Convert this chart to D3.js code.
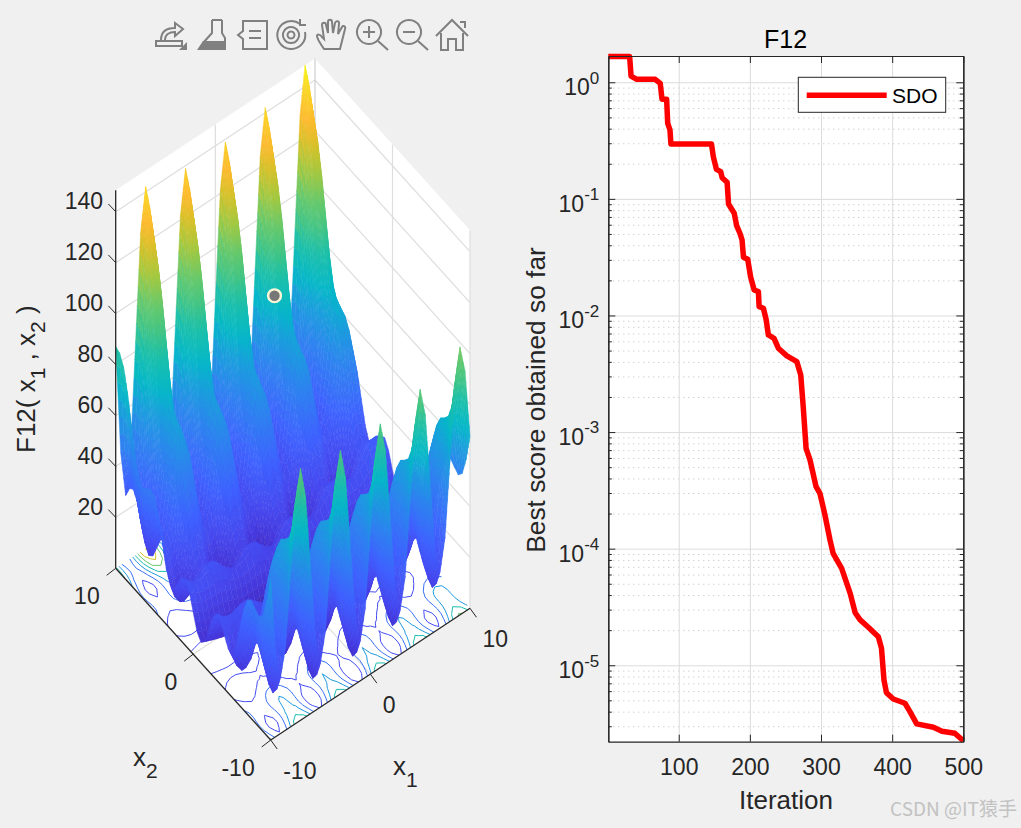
<!DOCTYPE html>
<html>
<head>
<meta charset="utf-8">
<script src="https://d3js.org/d3.v7.min.js"></script>
<style>
  body { margin: 0; background: #f0f0f0; }
  svg { display: block; }
  text { font-family: "Liberation Sans", Arial, sans-serif; fill: #262626; }
  .curve-axis path, .curve-axis line { stroke: #262626; }
  .grid-major line { stroke: #dcdcdc; }
  .grid-minor line { stroke: #bcbcbc; stroke-dasharray: 1 4; }
</style>
</head>
<body>
<div id="chart"></div>
<script>
'use strict';

// Convergence curve
var iterations = [1, 31, 33, 41, 67, 74, 76.5, 83, 84.5, 87.7, 89, 146, 148.6, 153, 159, 161, 168, 170, 178, 181.5, 186, 189, 191, 197, 201, 206, 212, 213, 219, 223, 226, 234, 240, 252, 266, 271.5, 275, 279, 284.5, 293, 298.5, 305.5, 312.6, 317, 329, 341, 348, 355, 366.5, 380.5, 385, 388.5, 392, 401.6, 418, 425, 434.5, 458, 470, 488, 500];
var bestScore = [1.66, 1.66, 1.13, 1.06, 1.06, 0.98, 0.715, 0.715, 0.445, 0.39, 0.296, 0.296, 0.23, 0.179, 0.171, 0.152, 0.139, 0.0904, 0.0753, 0.0586, 0.0507, 0.0445, 0.0316, 0.0303, 0.0215, 0.01655, 0.016, 0.0119, 0.01153, 0.00914, 0.0068, 0.00637, 0.00524, 0.0045, 0.00402, 0.00309, 0.00165, 0.000726, 0.000577, 0.00034, 0.000298, 0.000195, 0.000119, 0.0000912, 0.0000679, 0.0000414, 0.0000282, 0.0000245, 0.0000212, 0.0000176, 0.000014, 0.00000748, 0.00000582, 0.00000514, 0.00000472, 0.000004, 0.00000314, 0.00000294, 0.00000272, 0.00000261, 0.00000225];
var iterTicks = [100, 200, 300, 400, 500];
var scoreTicks = [1, 0.1, 0.01, 0.001, 0.0001, 0.00001];

// Surface heights, one row per x2, columns x1 = -10 .. 10 step 0.5 (estimates)
var zN1 = [8,7.1,6.3,5.5,4.8,4.2,3.5,3,2.5,2,1.6,1.2,.9,.6,.4,.2,.1,0,0,0,.1,.2,.4,.6,.9,1.2,1.6,2,2.5,3,3.5,4.2,4.8,5.5,6.3,7.1,8,8.9,9.8,10.8,11.9];
var zN05 = [10.4,9.5,8.6,7.9,7.3,6.7,6.1,5.5,4.9,4.4,3.9,3.6,3.3,3.1,3,2.8,2.5,2.4,2.3,2.4,2.5,2.8,3,3.1,3.3,3.6,3.9,4.4,4.9,5.5,6.1,6.7,7.3,7.9,8.6,9.5,10.4,11.4,12.4,13.4,14.3];
var z0 = [16.4,15.2,14.2,13.6,13.3,12.9,12.5,11.8,10.9,10.1,9.5,9.3,9.3,9.4,9.3,9,8.5,8.1,8,8.1,8.5,9,9.3,9.4,9.3,9.3,9.5,10.1,10.9,11.8,12.5,12.9,13.3,13.6,14.2,15.2,16.4,17.7,18.8,19.6,20.3];
var z05 = [22.7,21,19.9,19.5,19.5,19.7,19.4,18.5,17.2,15.9,15.2,15.2,15.6,16.1,16.2,15.7,14.8,14,13.6,14,14.8,15.7,16.2,16.1,15.6,15.2,15.2,15.9,17.2,18.5,19.4,19.7,19.5,19.5,19.9,21,22.7,24.4,25.7,26.3,26.6];
var z1 = [26,23.8,22.4,22.2,22.9,23.6,23.6,22.4,20.5,18.7,17.7,17.9,18.9,20.1,20.4,19.7,18.2,16.7,16.1,16.7,18.2,19.7,20.4,20.1,18.9,17.9,17.7,18.7,20.5,22.4,23.6,23.6,22.9,22.2,22.4,23.8,26,28.3,29.9,30.3,29.9];
var z15 = [25,22,20.3,20.4,21.9,23.4,23.7,22.2,19.5,16.9,15.6,16.1,18,19.9,20.6,19.5,17.2,14.9,14,14.9,17.2,19.5,20.6,19.9,18,16.1,15.6,16.9,19.5,22.2,23.7,23.4,21.9,20.4,20.3,22,25,28.1,30,30.1,29];
var z2 = [21.1,17.1,15,15.6,18,20.4,21.1,19.3,15.6,12,10.3,11.2,14,16.9,18,16.5,13.3,10.1,8.7,10.1,13.3,16.5,18,16.9,14,11.2,10.3,12,15.6,19.3,21.1,20.4,18,15.6,15,17.1,21.1,25.1,27.4,27.1,25];
var z25 = [17.5,12.4,9.8,10.8,14.3,17.9,19.1,16.7,12,7.3,5.1,6.5,10.4,14.4,15.9,14,9.6,5.3,3.5,5.3,9.6,14,15.9,14.4,10.4,6.5,5.1,7.3,12,16.7,19.1,17.9,14.3,10.8,9.8,12.4,17.5,22.6,25.4,24.6,21.4];
var z3 = [17.4,11,7.9,9.4,14.2,19.1,20.8,18,11.9,5.9,3.1,5.1,10.3,15.6,17.7,15.2,9.5,3.9,1.6,3.9,9.5,15.2,17.7,15.6,10.3,5.1,3.1,5.9,11.9,18,20.8,19.1,14.2,9.4,7.9,11,17.4,23.8,27.1,25.8,21.3];
var z35 = [22.2,14.3,10.6,12.7,19,25.4,27.7,24.2,16.7,9.2,5.9,8.4,15.1,21.9,24.6,21.5,14.3,7.2,4.3,7.2,14.3,21.5,24.6,21.9,15.1,8.4,5.9,9.2,16.7,24.2,27.7,25.4,19,12.7,10.6,14.3,22.2,30.1,34,32.1,26.1];
var z4 = [30.5,21,16.6,19.4,27.4,35.4,38.4,34.2,25,15.9,11.9,15.1,23.5,31.9,35.2,31.5,22.7,13.9,10.3,13.9,22.7,31.5,35.2,31.9,23.5,15.1,11.9,15.9,25,34.2,38.4,35.4,27.4,19.4,16.6,21,30.5,40.1,44.7,42.1,34.5];
var z45 = [39.2,27.8,22.7,26.3,36,45.9,49.6,44.7,33.7,22.7,18,21.9,32.1,42.3,46.5,42,31.3,20.8,16.4,20.8,31.3,42,46.5,42.3,32.1,21.9,18,22.7,33.7,44.7,49.6,45.9,36,26.3,22.7,27.8,39.2,50.6,55.9,52.6,43.1];
var z5 = [44.9,31.5,25.5,29.9,41.7,53.6,58.1,52.4,39.4,26.4,20.8,25.6,37.8,50,55,49.6,37,24.4,19.2,24.4,37,49.6,55,50,37.8,25.6,20.8,26.4,39.4,52.4,58.1,53.6,41.7,29.9,25.5,31.5,44.9,58.3,64.4,60.2,48.8];
var z55 = [46.3,30.7,23.8,29.2,43.1,57.1,62.6,55.9,40.8,25.6,19.1,24.8,39.2,53.6,59.4,53.2,38.4,23.7,17.6,23.7,38.4,53.2,59.4,53.6,39.2,24.8,19.1,25.6,40.8,55.9,62.6,57.1,43.1,29.2,23.8,30.7,46.3,61.8,68.9,63.8,50.2];
var z6 = [44.7,26.8,19,25.2,41.5,57.9,64.3,56.7,39.2,21.7,14.2,20.9,37.6,54.3,61.2,54,36.8,19.7,12.7,19.7,36.8,54,61.2,54.3,37.6,20.9,14.2,21.7,39.2,56.7,64.3,57.9,41.5,25.2,19,26.8,44.7,62.6,70.6,64.6,48.6];
var z65 = [43.4,23,14.1,21.4,40.3,59.1,66.6,57.9,37.9,17.9,9.4,17.1,36.3,55.6,63.4,55.2,35.5,15.9,7.8,15.9,35.5,55.2,63.4,55.6,36.3,17.1,9.4,17.9,37.9,57.9,66.6,59.1,40.3,21.4,14.1,23,43.4,63.8,72.9,65.8,47.3];
var z7 = [45.7,22.6,12.6,21,42.5,64.1,72.6,62.9,40.2,17.5,7.9,16.7,38.6,60.5,69.5,60.1,37.8,15.5,6.3,15.5,37.8,60.1,69.5,60.5,38.6,16.7,7.9,17.5,40.2,62.9,72.6,64.1,42.5,21,12.6,22.6,45.7,68.8,78.9,70.7,49.6];
var z75 = [52.8,26.9,15.7,25.3,49.7,74.1,83.9,72.9,47.3,21.8,11,21,45.7,70.6,80.7,70.2,45,19.8,9.4,19.8,45,70.2,80.7,70.6,45.7,21,11,21.8,47.3,72.9,83.9,74.1,49.7,25.3,15.7,26.9,52.8,78.8,90.1,80.8,56.7];
var z8 = [63.5,34.5,22.1,33,60.4,87.8,98.9,86.7,58,29.4,17.4,28.7,56.5,84.3,95.7,83.9,55.7,27.5,15.8,27.5,55.7,83.9,95.7,84.3,56.5,28.7,17.4,29.4,58,86.7,98.9,87.8,60.4,33,22.1,34.5,63.5,92.6,105.2,94.5,67.5];
var z85 = [74.5,42.3,28.6,40.8,71.4,102.1,114.4,100.9,69,37.2,23.8,36.4,67.5,98.5,111.3,98.1,66.7,35.3,22.3,35.3,66.7,98.1,111.3,98.5,67.5,36.4,23.8,37.2,69,100.9,114.4,102.1,71.4,40.8,28.6,42.3,74.5,106.8,120.7,108.7,78.5];
var z9 = [82.6,47,31.8,45.4,79.4,113.5,127.2,112.3,77.1,41.9,27.1,41.1,75.5,109.9,124.1,109.6,74.7,39.9,25.5,39.9,74.7,109.6,124.1,109.9,75.5,41.1,27.1,41.9,77.1,112.3,127.2,113.5,79.4,45.4,31.8,47,82.6,118.2,133.5,120.2,86.5];
var z95 = [86.3,47.2,30.5,45.6,83.2,120.8,136,119.6,80.8,42.1,25.8,41.3,79.2,117.2,132.9,116.8,78.5,40.1,24.2,40.1,78.5,116.8,132.9,117.2,79.2,41.3,25.8,42.1,80.8,119.6,136,120.8,83.2,45.6,30.5,47.2,86.3,125.5,142.3,127.4,90.2];
var z10 = [87.1,44.2,26,42.6,83.9,125.3,142.1,124.1,81.6,39.1,21.3,38.3,80,121.8,138.9,121.4,79.2,37.1,19.7,37.1,79.2,121.4,138.9,121.8,80,38.3,21.3,39.1,81.6,124.1,142.1,125.3,83.9,42.6,26,44.2,87.1,130,148.4,132,91];
// x2 = -10 .. 10 step 0.5, the rows repeat around x2 = -1
var heights = [z8, z75, z7, z65, z6, z55, z5, z45, z4, z35, z3, z25, z2, z15, z1, z05, z0, zN05, zN1, zN05, z0, z05, z1, z15, z2, z25, z3, z35, z4, z45, z5, z55, z6, z65, z7, z75, z8, z85, z9, z95, z10];

var zTicks = [20, 40, 60, 80, 100, 120, 140];
var floorTicks = [-10, 0, 10];
var contourLevels = [20, 40, 60, 80, 100, 120, 140];
var markerPoint = [-1, 1.08, 113.8];

var parulaStops = [0, .06, .12, .22, .33, .42, .48, .56, .62, .68, .75, .82, .87, .95, 1];
var parulaColors = ['#3e26a8', '#4535d8', '#4648ee', '#3f62ff', '#2f82f0', '#1a9fdc', '#05b8c8', '#1ec0a8', '#45c583', '#68c96c', '#a5c840', '#dcc028', '#fdb92f', '#f9da26', '#f9fb15'];

// Layout parameters
var zMax = 148.4;
var origin = {x: 270.7, y: 740};
var boxHeight = 378;
var curve = {left: 608.3, right: 963.3, top: 56, bottom: 741.7};

var svg = d3.select('#chart').append('svg')
  .attr('width', 1021)
  .attr('height', 828);

// Oblique projection of the 3D panel
var x1Across = d3.scaleLinear().domain([-10, 10]).range([0, 199.3]);
var x1Rise = d3.scaleLinear().domain([-10, 10]).range([0, 131.7]);
var x2Across = d3.scaleLinear().domain([-10, 10]).range([0, -155]);
var x2Rise = d3.scaleLinear().domain([-10, 10]).range([0, 171.7]);
var zRise = d3.scaleLinear().domain([0, zMax]).range([0, boxHeight]);
var colorOf = d3.scaleLinear()
  .domain(parulaStops.map(function(t) { return t * zMax; }))
  .range(parulaColors);

function px(x1, x2) { return origin.x + x1Across(x1) + x2Across(x2); }
function py(x1, x2, z) { return origin.y - x1Rise(x1) - x2Rise(x2) - zRise(z); }

var x1Grid = d3.range(41).map(function(i) { return -10 + i * 0.5; });
var x2Grid = x1Grid.slice();

var panel = svg.append('g').attr('class', 'surface-panel');

// White walls and floor
panel.append('path')
  .attr('d', d3.line()([
    [px(-10, 10), py(-10, 10, zMax)], [px(10, 10), py(10, 10, zMax)], [px(10, -10), py(10, -10, zMax)],
    [px(10, -10), py(10, -10, 0)], [px(-10, -10), py(-10, -10, 0)], [px(-10, 10), py(-10, 10, 0)]
  ]) + 'Z')
  .attr('fill', '#fff');

var gridColor = '#dedede';
function seg(g, a, b, color, w) {
  g.append('line').attr('x1', a[0]).attr('y1', a[1]).attr('x2', b[0]).attr('y2', b[1])
    .attr('stroke', color).attr('stroke-width', w);
}
function at(x1, x2, z) { return [px(x1, x2), py(x1, x2, z)]; }

var walls = panel.append('g');
zTicks.forEach(function(z) {
  seg(walls, at(-10, 10, z), at(10, 10, z), gridColor, 1.2);
  seg(walls, at(10, 10, z), at(10, -10, z), gridColor, 1.2);
});
seg(walls, at(0, 10, 0), at(0, 10, zMax), gridColor, 1.2);
seg(walls, at(10, 0, 0), at(10, 0, zMax), gridColor, 1.2);
seg(walls, at(10, 10, 0), at(10, 10, zMax), '#cfcfcf', 1.2);
seg(walls, at(10, -10, 0), at(10, -10, zMax), gridColor, 1.2);
seg(walls, at(0, -10, 0), at(0, 10, 0), gridColor, 1.2);
seg(walls, at(-10, 0, 0), at(10, 0, 0), gridColor, 1.2);

// Floor contours
var flat = d3.merge(heights);
var contours = d3.contours()
  .size([x1Grid.length, x2Grid.length])
  .thresholds(contourLevels)(flat);
var clampGrid = function(v) { return Math.max(-10, Math.min(10, v)); };
var gridAt = function(c) { return clampGrid(-10 + (c - 0.5) * 0.5); };

panel.append('g').attr('class', 'contours')
  .selectAll('path')
  .data(contours)
  .join('path')
  .attr('fill', 'none')
  .attr('stroke-width', 1)
  .attr('stroke', function(d) { return colorOf(d.value); })
  .attr('d', function(d) {
    var p = d3.path();
    d.coordinates.forEach(function(polygon) {
      polygon.forEach(function(ring) {
        for (var k = 0; k < ring.length - 1; k++) {
          var a1 = gridAt(ring[k][0]), a2 = gridAt(ring[k][1]);
          var b1 = gridAt(ring[k + 1][0]), b2 = gridAt(ring[k + 1][1]);
          var onEdge = (a1 === b1 && Math.abs(a1) === 10) || (a2 === b2 && Math.abs(a2) === 10);
          if (onEdge) continue;
          p.moveTo(px(a1, a2), py(a1, a2, 0));
          p.lineTo(px(b1, b2), py(b1, b2, 0));
        }
      });
    });
    return p.toString();
  });

// Surface facets, back to front; steep cells get split finer so the shading stays smooth
var facets = [];
var maxSplit = 6;
var bandHeight = 4;
for (var i = x2Grid.length - 2; i >= 0; i--) {
  for (var j = x1Grid.length - 2; j >= 0; j--) {
    var dzU = Math.max(Math.abs(heights[i][j + 1] - heights[i][j]), Math.abs(heights[i + 1][j + 1] - heights[i + 1][j]));
    var dzV = Math.max(Math.abs(heights[i + 1][j] - heights[i][j]), Math.abs(heights[i + 1][j + 1] - heights[i][j + 1]));
    var nu = Math.max(1, Math.min(maxSplit, Math.ceil(dzU / bandHeight)));
    var nv = Math.max(1, Math.min(maxSplit, Math.ceil(dzV / bandHeight)));
    for (var v = nv - 1; v >= 0; v--) {
      for (var u = nu - 1; u >= 0; u--) {
        facets.push(subFacet(i, j, u / nu, v / nv, 1 / nu, 1 / nv));
      }
    }
  }
}

function subFacet(i, j, u, v, stepU, stepV) {
  var corner = function(cu, cv) {
    var z = (heights[i][j] * (1 - cu) + heights[i][j + 1] * cu) * (1 - cv) +
      (heights[i + 1][j] * (1 - cu) + heights[i + 1][j + 1] * cu) * cv;
    var a = x1Grid[j] + (x1Grid[j + 1] - x1Grid[j]) * cu;
    var b = x2Grid[i] + (x2Grid[i + 1] - x2Grid[i]) * cv;
    return {x: px(a, b), y: py(a, b, z), z: z};
  };
  var cs = [corner(u, v), corner(u + stepU, v), corner(u + stepU, v + stepV), corner(u, v + stepV)];
  return {
    pts: cs.map(function(c) { return [c.x, c.y]; }),
    z: d3.mean(cs, function(c) { return c.z; })
  };
}

var facetLine = d3.line();
panel.append('g').attr('class', 'surface')
  .selectAll('path')
  .data(facets)
  .join('path')
  .attr('d', function(d) { return facetLine(d.pts) + 'Z'; })
  .attr('fill', function(d) { return colorOf(d.z); })
  .attr('stroke', function(d) { return colorOf(d.z); })
  .attr('stroke-width', 0.5);

// Axes of the 3D panel
var axisColor = '#262626';
var axes3d = panel.append('g');
seg(axes3d, at(-10, 10, 0), at(-10, 10, zMax), axisColor, 1.3);
seg(axes3d, at(-10, 10, 0), at(-10, -10, 0), axisColor, 1.3);
seg(axes3d, at(-10, -10, 0), at(10, -10, 0), axisColor, 1.3);

zTicks.forEach(function(z) {
  var p = at(-10, 10, z);
  seg(axes3d, p, [p[0] - 7.3, p[1] - 7.7], axisColor, 1);
  axes3d.append('text')
    .attr('x', 103).attr('y', p[1] - 2.2)
    .attr('text-anchor', 'end').attr('font-size', 23)
    .text(z);
});
floorTicks.forEach(function(t) {
  var p = at(t, -10, 0);
  seg(axes3d, p, [p[0] + 6.5, p[1] + 9], axisColor, 1);
  axes3d.append('text')
    .attr('x', p[0] + 12.5).attr('y', p[1] + 39)
    .attr('font-size', 23).text(t);
  var q = at(-10, t, 0);
  seg(axes3d, q, [q[0] - 9, q[1] + 7], axisColor, 1);
  axes3d.append('text')
    .attr('x', q[0] - 16).attr('y', q[1] + 36)
    .attr('text-anchor', 'end').attr('font-size', 23).text(t);
});

function subscripted(g, parts) {
  parts.forEach(function(part) {
    var t = g.append('tspan').text(part[0]);
    if (part[1]) t.attr('font-size', 21).attr('dy', part[1]);
  });
}
subscripted(panel.append('text').attr('x', 133).attr('y', 766).attr('font-size', 26), [['x'], ['2', 12]]);
subscripted(panel.append('text').attr('x', 393).attr('y', 775).attr('font-size', 26), [['x'], ['1', 12]]);
subscripted(
  panel.append('text').attr('transform', 'translate(35,453) rotate(-90)').attr('font-size', 26),
  [['F12( x'], ['1', 10], [' , x', -10], ['2', 10], [' )', -10]]
);
// plain size on the pieces back on the baseline
panel.selectAll('tspan').filter(function() { return this.textContent.indexOf('x') >= 0 || this.textContent === ' )'; })
  .attr('font-size', 26);

panel.append('circle')
  .attr('cx', px(markerPoint[0], markerPoint[1]))
  .attr('cy', py(markerPoint[0], markerPoint[1], markerPoint[2]))
  .attr('r', 6.4)
  .attr('fill', '#777')
  .attr('stroke', '#fdf7d8')
  .attr('stroke-width', 2.4);

// Figure toolbar
var iconColor = '#808080';
var icons = [
  {x: 155, paths: ['M1 22h26v5H1z', 'M6 21C6 12 12 9 20 9V4l8 6-8 7v-4C14 13 10 16 10 21'], solid: ['M32 23v8h-8z']},
  {x: 197, paths: ['M15 1h10 M15 1v13L6 24 M25 1v13l3 5v12'], solid: ['M6 22h22v9H0z']},
  {x: 236, paths: ['M7 2h24v28H7V20l-5-4 5-4z', 'M13 12h12 M13 19h12'], solid: []},
  {x: 276, paths: ['M24 5A14 14 0 1 0 29 13', 'M15 8a8 8 0 1 0 .01 0z', 'M15 12.5a3.5 3.5 0 1 0 .01 0z', 'M24 0v6h6'], solid: []},
  {x: 316, paths: ['M8 30C4 24 1 20 1 17c0-2 3-2 5 1l2 2L6 6c0-3 4-3 4 0l2 8V3c0-3 4-3 4 0l1 11 2-10c1-3 5-2 4 1l-1 10 4-7c1-2 4-1 3 2l-3 12-2 8z'], solid: []},
  {x: 356, paths: ['M13 1a12 12 0 1 0 .01 0z', 'M22 22l10 9', 'M13 7v12 M7 13h12'], solid: []},
  {x: 396, paths: ['M13 1a12 12 0 1 0 .01 0z', 'M22 22l10 9', 'M7 13h12'], solid: []},
  {x: 436, paths: ['M0 17L16 1l16 16', 'M5 14v17h7V20h8v11h7V14', 'M24 3h5v6'], solid: []}
];
var toolbar = svg.append('g').attr('class', 'toolbar');
icons.forEach(function(icon) {
  var g = toolbar.append('g').attr('transform', 'translate(' + icon.x + ',19)');
  icon.paths.forEach(function(d) {
    g.append('path').attr('d', d).attr('fill', 'none').attr('stroke', iconColor).attr('stroke-width', 2);
  });
  icon.solid.forEach(function(d) {
    g.append('path').attr('d', d).attr('fill', iconColor);
  });
});

// Right panel: convergence curve
var x = d3.scaleLinear().domain([1, 500]).range([curve.left, curve.right]);
var y = d3.scaleLog().domain([2.21e-6, 1.68]).range([curve.bottom, curve.top]);
var plotW = curve.right - curve.left;
var plotH = curve.bottom - curve.top;

svg.append('rect')
  .attr('x', curve.left).attr('y', curve.top)
  .attr('width', plotW).attr('height', plotH)
  .attr('fill', '#fff');

var plot = svg.append('g').attr('class', 'curve-panel');
var minorTicks = y.ticks().filter(function(t) {
  return scoreTicks.indexOf(t) < 0 && Math.abs(Math.log10(t) - Math.round(Math.log10(t))) > 1e-6;
});

plot.append('g').attr('class', 'grid-minor')
  .attr('transform', 'translate(' + curve.left + ',0)')
  .call(d3.axisLeft(y).tickValues(minorTicks).tickSize(-plotW).tickFormat(''))
  .call(function(g) { g.select('.domain').remove(); });
plot.append('g').attr('class', 'grid-major')
  .attr('transform', 'translate(' + curve.left + ',0)')
  .call(d3.axisLeft(y).tickValues(scoreTicks).tickSize(-plotW).tickFormat(''))
  .call(function(g) { g.select('.domain').remove(); });
plot.append('g').attr('class', 'grid-major')
  .attr('transform', 'translate(0,' + curve.bottom + ')')
  .call(d3.axisBottom(x).tickValues(iterTicks).tickSize(-plotH).tickFormat(''))
  .call(function(g) { g.select('.domain').remove(); });

var lineGen = d3.line()
  .x(function(d, i) { return x(iterations[i]); })
  .y(function(d) { return y(d); });

plot.append('path')
  .attr('d', lineGen(bestScore))
  .attr('fill', 'none')
  .attr('stroke', '#f00')
  .attr('stroke-width', 5.5)
  .attr('stroke-linejoin', 'round');

function styleAxis(g) {
  g.attr('class', 'curve-axis');
  g.selectAll('.domain').attr('stroke-width', 1.2);
}

var xAxisG = plot.append('g')
  .attr('transform', 'translate(0,' + curve.bottom + ')')
  .call(d3.axisBottom(x).tickValues(iterTicks).tickSizeInner(-7).tickSizeOuter(0).tickPadding(16.5));
xAxisG.call(styleAxis);
xAxisG.selectAll('text').attr('font-size', 23).attr('font-family', null);
xAxisG.attr('font-family', null);

plot.append('g')
  .attr('transform', 'translate(0,' + curve.top + ')')
  .call(d3.axisTop(x).tickValues(iterTicks).tickSizeInner(-7).tickSizeOuter(0).tickFormat(''))
  .call(styleAxis);

var yAxisG = plot.append('g')
  .attr('transform', 'translate(' + curve.left + ',0)')
  .call(d3.axisLeft(y).tickValues(scoreTicks).tickSizeInner(-7).tickSizeOuter(0).tickPadding(9));
yAxisG.call(styleAxis);
yAxisG.attr('font-family', null);
yAxisG.selectAll('.tick text').each(function(d) {
  var t = d3.select(this);
  t.text('').attr('dy', null).attr('y', 12.4).attr('font-size', 23);
  t.append('tspan').text('10');
  t.append('tspan').attr('font-size', 17).attr('dy', -11.5).text(Math.round(Math.log10(d)));
});

plot.append('g')
  .attr('transform', 'translate(' + curve.left + ',0)')
  .call(d3.axisLeft(y).tickValues(minorTicks).tickSizeInner(-3.5).tickSizeOuter(0).tickFormat(''))
  .call(styleAxis);
plot.append('g')
  .attr('transform', 'translate(' + curve.right + ',0)')
  .call(d3.axisRight(y).tickValues(scoreTicks).tickSizeInner(-7).tickSizeOuter(0).tickFormat(''))
  .call(styleAxis);
plot.append('g')
  .attr('transform', 'translate(' + curve.right + ',0)')
  .call(d3.axisRight(y).tickValues(minorTicks).tickSizeInner(-3.5).tickSizeOuter(0).tickFormat(''))
  .call(styleAxis);

plot.append('text')
  .attr('x', 785.5).attr('y', 48)
  .attr('text-anchor', 'middle').attr('font-size', 25).style('fill', '#000')
  .text('F12');
plot.append('text')
  .attr('x', 786).attr('y', 809)
  .attr('text-anchor', 'middle').attr('font-size', 26)
  .text('Iteration');
plot.append('text')
  .attr('transform', 'translate(544.5,400) rotate(-90)')
  .attr('text-anchor', 'middle').attr('font-size', 26.3)
  .text('Best score obtained so far');

// Legend
var legend = plot.append('g').attr('class', 'legend');
legend.append('rect')
  .attr('x', 798.3).attr('y', 77.3).attr('width', 147.4).attr('height', 35)
  .attr('fill', '#fff').attr('stroke', '#262626').attr('stroke-width', 1);
legend.append('line')
  .attr('x1', 806.7).attr('x2', 886.7).attr('y1', 95.3).attr('y2', 95.3)
  .attr('stroke', '#f00').attr('stroke-width', 5.5);
legend.append('text')
  .attr('x', 892).attr('y', 103)
  .attr('font-size', 21).style('fill', '#000')
  .text('SDO');

// Watermark
svg.append('text')
  .attr('x', 1017).attr('y', 816)
  .attr('text-anchor', 'end')
  .attr('font-size', 19)
  .style('font-family', '"Noto Sans CJK SC", "Noto Sans", sans-serif')
  .style('fill', '#c2c2c2')
  .text('CSDN @IT猿手');
</script>
</body>
</html>
